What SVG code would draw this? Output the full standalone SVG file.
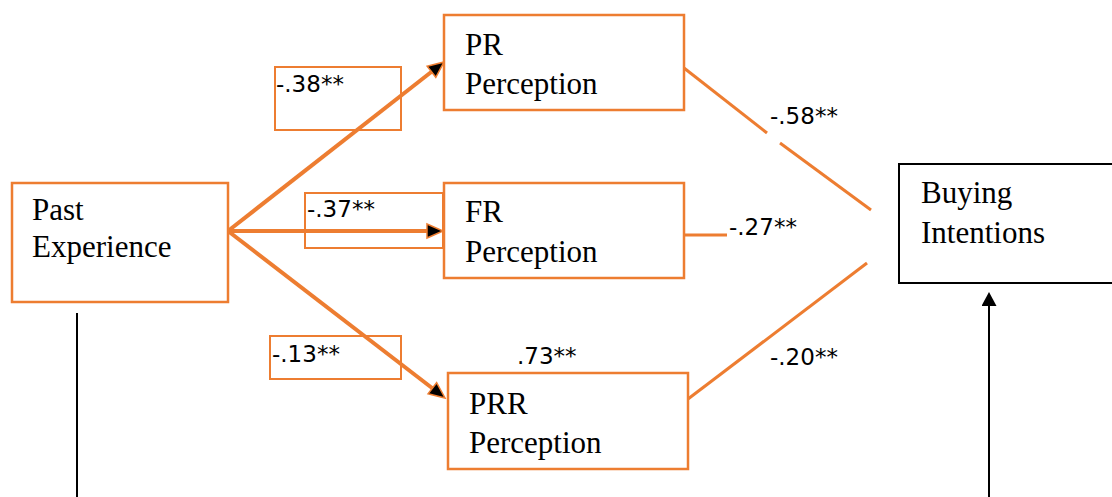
<svg xmlns="http://www.w3.org/2000/svg" width="1112" height="497" viewBox="0 0 1112 497">
<style>
.node{fill:#fff;stroke:#ED7D31;stroke-width:2.5}
.lbox{fill:none;stroke:#ED7D31;stroke-width:2}
.nt{font-family:"Liberation Serif","Times New Roman",serif;font-size:31px;fill:#000}
.lt{font-family:"DejaVu Sans",Verdana,sans-serif;font-size:23px;fill:#000}
.oc{fill:none;stroke:#ED7D31;stroke-width:4}
.oc2{fill:none;stroke:#ED7D31;stroke-width:3}
.bc{fill:none;stroke:#000;stroke-width:2}
</style>
<defs>
<marker id="oa" markerUnits="userSpaceOnUse" viewBox="-2 -2 20 18" refX="7" refY="7" markerWidth="20" markerHeight="18" orient="auto">
<path d="M0,0 L16,7 L0,14 Z" fill="#000" stroke="#ED7D31" stroke-width="1.5"/>
</marker>
<marker id="ba" markerUnits="userSpaceOnUse" viewBox="0 0 14 15" refX="1" refY="7.5" markerWidth="14" markerHeight="15" orient="auto">
<path d="M0,0 L14,7.5 L0,15 Z" fill="#000"/>
</marker>
</defs>
<g id="connectors">
<path class="oc" d="M228,231 L437.0,67.5" marker-end="url(#oa)"/>
<path class="oc" d="M228,231 L434,231" marker-end="url(#oa)"/>
<path class="oc" d="M228,231 L437.9,392.5" marker-end="url(#oa)"/>
<path class="oc2" d="M684,68 L767,133"/>
<path class="oc2" d="M780,143 L871,210"/>
<path class="oc2" d="M684,235 L727,235"/>
<path class="oc2" d="M688,399 L867,263"/>
<path class="bc" d="M77,313 L77,497"/>
<path class="bc" d="M989,497 L989,305" marker-end="url(#ba)"/>
</g>
<g id="label-38"><rect class="lbox" x="275" y="67" width="126" height="63"/><text class="lt" x="276" y="92">-.38**</text></g>
<g id="label-37"><rect class="lbox" x="305" y="193" width="138" height="55"/><text class="lt" x="307" y="217">-.37**</text></g>
<g id="label-13"><rect class="lbox" x="270" y="336" width="131" height="43"/><text class="lt" x="272" y="362">-.13**</text></g>
<g id="label-73"><text class="lt" x="517" y="364">.73**</text></g>
<g id="label-58"><text class="lt" x="770" y="124">-.58**</text></g>
<g id="label-27"><text class="lt" x="729" y="235">-.27**</text></g>
<g id="label-20"><text class="lt" x="770" y="365">-.20**</text></g>
<g id="past-experience"><rect class="node" x="12" y="183" width="216" height="119"/><text class="nt" x="32" y="220">Past</text><text class="nt" x="32" y="257">Experience</text></g>
<g id="pr-perception"><rect class="node" x="444" y="15" width="240" height="95"/><text class="nt" x="465" y="55">PR</text><text class="nt" x="465" y="94">Perception</text></g>
<g id="fr-perception"><rect class="node" x="444" y="183" width="240" height="95"/><text class="nt" x="465" y="222">FR</text><text class="nt" x="465" y="262">Perception</text></g>
<g id="prr-perception"><rect class="node" x="448" y="373" width="240" height="96"/><text class="nt" x="469" y="414">PRR</text><text class="nt" x="469" y="453">Perception</text></g>
<g id="buying-intentions"><rect x="899" y="164" width="230" height="119" fill="#fff" stroke="#000" stroke-width="2"/><text class="nt" x="921" y="203">Buying</text><text class="nt" x="921" y="243">Intentions</text></g>
</svg>
